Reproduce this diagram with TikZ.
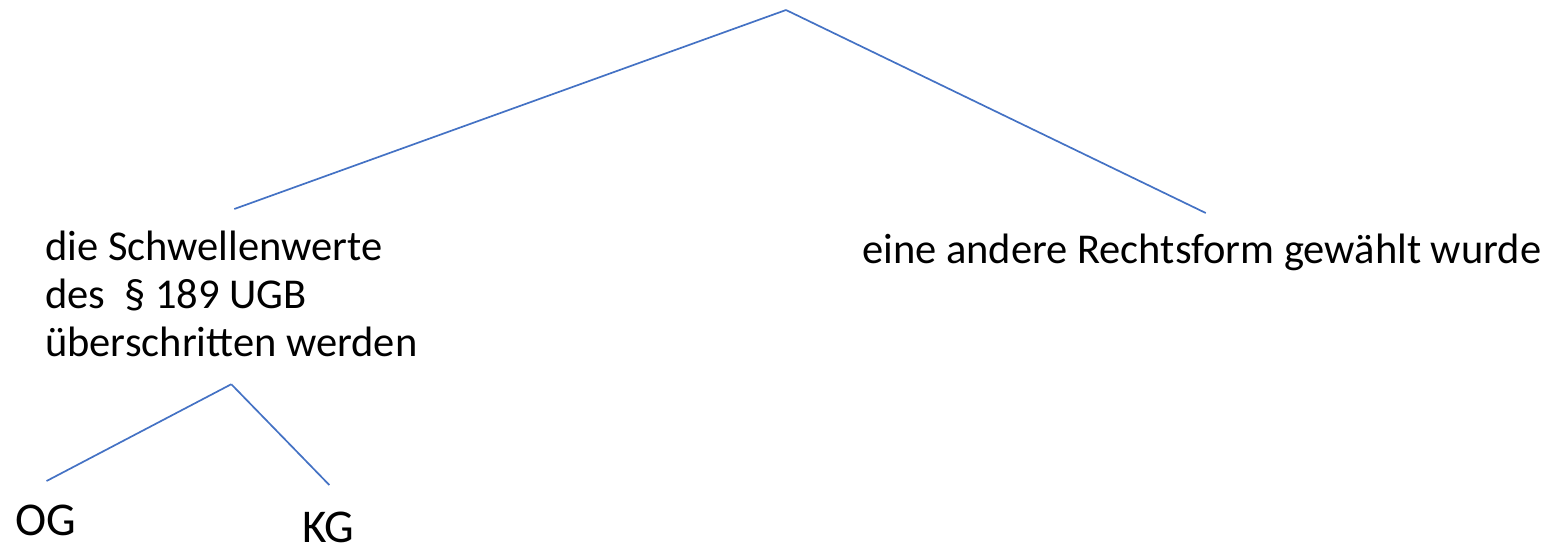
\documentclass[tikz,border=0pt]{standalone}
\usepackage{fontspec}
\setmainfont{Carlito}
\usetikzlibrary{positioning}
\definecolor{astblau}{HTML}{4472C4}
\tikzset{
  ast/.style={draw=astblau, line width=1.7pt},
  blatt/.style={inner sep=0pt, align=left, font=\fontsize{42.5}{48}\selectfont},
  kurz/.style={inner sep=0pt, font=\fontsize{47}{48}\selectfont}
}
\begin{document}
\begin{tikzpicture}[x=1pt,y=-1pt]
\useasboundingbox (0,0) rectangle (1549,543);
% Wurzel
\coordinate (wurzel) at (786,10);
% Aeste
\node[blatt, anchor=north west] (schwelle) at (45,231) {die Schwellenwerte\\des~~\S\ 189 UGB\\überschritten werden};
\node[blatt, anchor=north west] (rechtsform) at (862,234) {eine andere Rechtsform gewählt wurde};
\coordinate[below=27pt of schwelle] (gabel);
\node[kurz, anchor=north west] (og) at (15,505) {OG};
\node[kurz, anchor=north west] (kg) at (302,512) {KG};
% Linien
\draw[ast] (wurzel) -- ([xshift=3pt,yshift=22pt]schwelle.north);
\draw[ast] (wurzel) -- ([xshift=4pt,yshift=21pt]rechtsform.north);
\draw[ast] (gabel) -- ([xshift=1pt,yshift=24pt]og.north);
\draw[ast] (gabel) -- ([xshift=1pt,yshift=27pt]kg.north);
\end{tikzpicture}
\end{document}
